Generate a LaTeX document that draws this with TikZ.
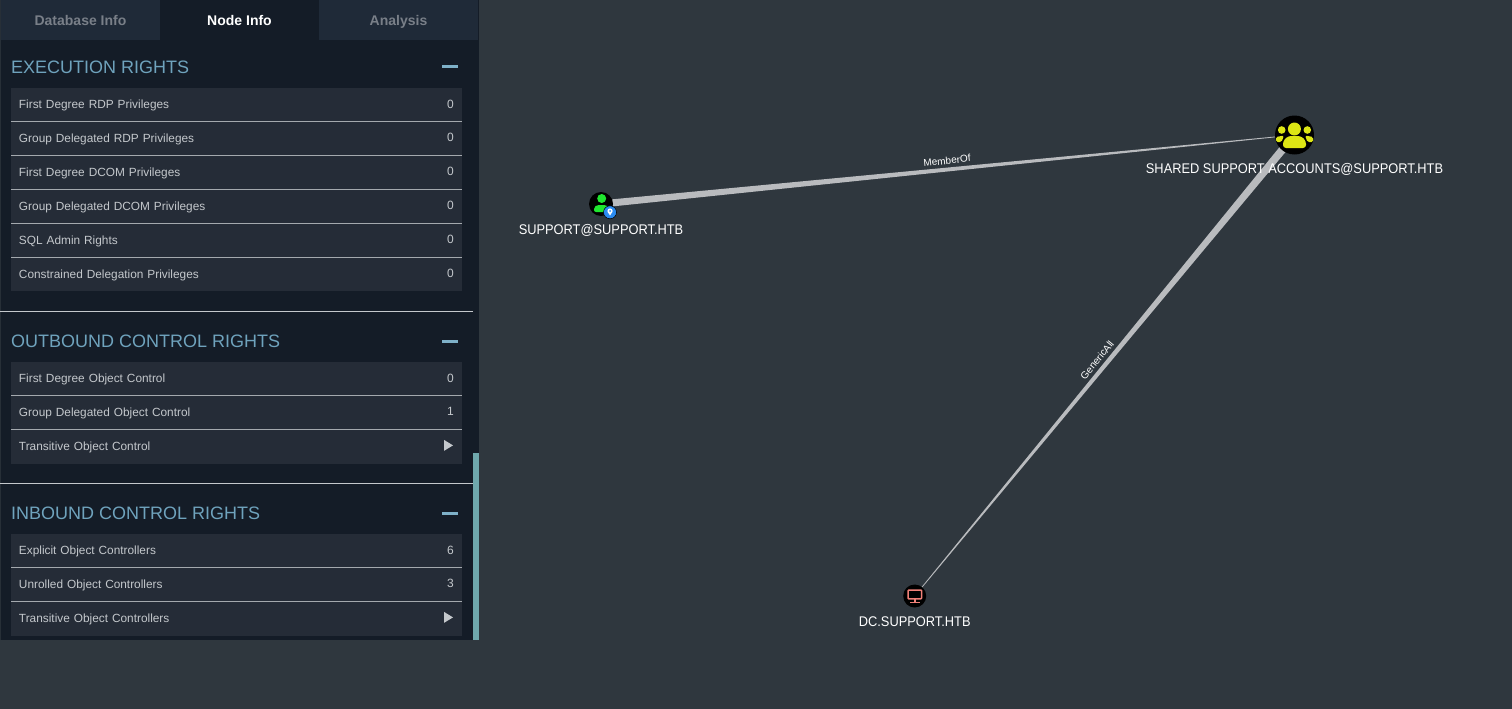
\documentclass[tikz,border=0pt]{standalone}
\usepackage{fontspec}
\setmainfont{Liberation Sans}
\usetikzlibrary{positioning,calc}
\definecolor{canvas}{HTML}{2F373E}
\definecolor{panel}{HTML}{141C27}
\definecolor{tabbar}{HTML}{1F2A38}
\definecolor{rowfill}{HTML}{252C37}
\definecolor{headblue}{HTML}{6FA3BD}
\definecolor{minusblue}{HTML}{7EB0C8}
\definecolor{scrollteal}{HTML}{6FA8AD}
\definecolor{rowtext}{HTML}{C4C8CC}
\definecolor{edgegrey}{HTML}{B9BBBE}
\definecolor{groupyellow}{HTML}{DDE614}
\definecolor{usergreen}{HTML}{1FE52F}
\definecolor{compred}{HTML}{F08078}
\definecolor{badgeblue}{HTML}{2B8BF0}
\colorlet{tabgrey}{white!40!tabbar}
\newcommand{\px}[1]{\fontsize{#1}{#1}\selectfont}
\newcommand{\taper}[3]{\fill[edgegrey] ($(#1)!#3!90:(#2)$) -- ($(#1)!#3!-90:(#2)$) -- ($(#2)!.3pt!90:(#1)$) -- ($(#2)!.3pt!-90:(#1)$) -- cycle;}
\tikzset{tabbox/.style={minimum width=159pt,minimum height=40pt,inner sep=0pt,outer sep=0pt,text height=14pt,text depth=2pt,font=\px{14}\bfseries,fill=tabbar},
rowbox/.style={fill=rowfill,minimum height=33.85pt,inner xsep=8pt,inner ysep=0pt,outer sep=0pt,text height=10pt,text depth=2pt,anchor=north west,font=\px{11.85},text=rowtext,align=left,text width=435pt},
rowval/.style={anchor=east,inner sep=0pt,xshift=-8pt,yshift=1pt,font=\px{12},text=rowtext},
heading/.style={anchor=west,inner sep=0pt,font=\px{18},text=headblue},
minus/.style={fill=minusblue,minimum width=16pt,minimum height=3pt,inner sep=0pt},
play/.style={fill=rowtext},
sep/.style={draw=rowtext!80!rowfill,line width=1pt},
divider/.style={draw=rowtext,line width=1pt},
graphlab/.style={font=\px{14},text=white,inner sep=0pt,xscale=.917},
edgelab/.style={font=\px{10},text=white,inner sep=1pt},
obj/.style={circle,fill=black,inner sep=0pt}}
\begin{document}
\begin{tikzpicture}[x=1pt,y=-1pt]
\useasboundingbox[fill=canvas] (0,0) rectangle (1512,709);
\fill[panel] (0,0) rectangle (479,640);
\draw[canvas!70!panel,line width=1pt] (.5,0) -- (.5,640);
\node[tabbox,anchor=north west,text=tabgrey] (dbtab) at (1,0) {Database Info};
\node[tabbox,right=0pt of dbtab,fill=panel,text=white] (nodetab) {Node Info};
\node[tabbox,right=0pt of nodetab,text=tabgrey] (antab) {Analysis};
\node[heading] (exec) at (11,67) {EXECUTION RIGHTS};
\node[minus] (execmin) at (450,67) {};
\node[rowbox] (rdpa) at (11,88) {First Degree RDP Privileges};
\node[rowval] (rdpav) at (rdpa.east) {0};
\node[rowbox,below=0pt of rdpa.south west,anchor=north west] (rdpb) {Group Delegated RDP Privileges};
\node[rowval] (rdpbv) at (rdpb.east) {0};
\node[rowbox,below=0pt of rdpb.south west,anchor=north west] (dcoma) {First Degree DCOM Privileges};
\node[rowval] (dcomav) at (dcoma.east) {0};
\node[rowbox,below=0pt of dcoma.south west,anchor=north west] (dcomb) {Group Delegated DCOM Privileges};
\node[rowval] (dcombv) at (dcomb.east) {0};
\node[rowbox,below=0pt of dcomb.south west,anchor=north west] (sql) {SQL Admin Rights};
\node[rowval] (sqlv) at (sql.east) {0};
\node[rowbox,below=0pt of sql.south west,anchor=north west] (deleg) {Constrained Delegation Privileges};
\node[rowval] (delegv) at (deleg.east) {0};
\draw[sep] (rdpa.south west) -- (rdpa.south east);
\draw[sep] (rdpb.south west) -- (rdpb.south east);
\draw[sep] (dcoma.south west) -- (dcoma.south east);
\draw[sep] (dcomb.south west) -- (dcomb.south east);
\draw[sep] (sql.south west) -- (sql.south east);
\draw[divider] (0,311.5) -- (473,311.5);
\node[heading] (outb) at (11,341) {OUTBOUND CONTROL RIGHTS};
\node[minus] (outmin) at (450,341) {};
\node[rowbox] (obja) at (11,362) {First Degree Object Control};
\node[rowval] (objav) at (obja.east) {0};
\node[rowbox,below=0pt of obja.south west,anchor=north west] (objb) {Group Delegated Object Control};
\node[rowval] (objbv) at (objb.east) {1};
\node[rowbox,below=0pt of objb.south west,anchor=north west] (objc) {Transitive Object Control};
\fill[play] ($(objc.east)+(-18,-6.75)$) -- ($(objc.east)+(-18,4.25)$) -- ($(objc.east)+(-9,-1.25)$) -- cycle;
\draw[sep] (obja.south west) -- (obja.south east);
\draw[sep] (objb.south west) -- (objb.south east);
\draw[divider] (0,483.5) -- (473,483.5);
\node[heading] (inb) at (11,513) {INBOUND CONTROL RIGHTS};
\node[minus] (inmin) at (450,513) {};
\node[rowbox] (cona) at (11,534) {Explicit Object Controllers};
\node[rowval] (conav) at (cona.east) {6};
\node[rowbox,below=0pt of cona.south west,anchor=north west] (conb) {Unrolled Object Controllers};
\node[rowval] (conbv) at (conb.east) {3};
\node[rowbox,below=0pt of conb.south west,anchor=north west] (conc) {Transitive Object Controllers};
\fill[play] ($(conc.east)+(-18,-6.75)$) -- ($(conc.east)+(-18,4.25)$) -- ($(conc.east)+(-9,-1.25)$) -- cycle;
\draw[sep] (cona.south west) -- (cona.south east);
\draw[sep] (conb.south west) -- (conb.south east);
\fill[scrollteal] (473,453) rectangle (479,640);
% graph
\coordinate (usr) at (601,204);
\coordinate (grp) at (1294.5,135);
\coordinate (dc) at (914.7,596);
\taper{usr}{grp}{3.6pt}
\taper{grp}{dc}{4pt}
\node[edgelab,rotate=5.7] (memberof) at (947,160.5) {MemberOf};
\node[edgelab,rotate=50.5] (genericall) at (1097,360) {GenericAll};
\node[obj,minimum size=24pt] (usernode) at (usr) {};
\node[obj,minimum size=39pt] (groupnode) at (grp) {};
\node[obj,minimum size=23pt] (dcnode) at (dc) {};
\node[graphlab,below=26pt of usernode.center,anchor=center] (userlab) {SUPPORT@SUPPORT.HTB};
\node[graphlab,below=34pt of groupnode.center,anchor=center] (grouplab) {SHARED SUPPORT ACCOUNTS@SUPPORT.HTB};
\node[graphlab,below=26pt of dcnode.center,anchor=center] (dclab) {DC.SUPPORT.HTB};
% group icon
\fill[groupyellow] (1294.4,129) circle (6.5);
\fill[groupyellow] (1281.7,130) circle (3.8);
\fill[groupyellow] (1307.3,130) circle (3.8);
\fill[groupyellow,rounded corners=3pt] (1283,148) -- (1283,141) -- (1288,136) -- (1301,136) -- (1306,141) -- (1306,148) -- cycle;
\fill[groupyellow,rounded corners=1.5pt] (1276,142) -- (1276,137) -- (1284,135.5) -- (1281.5,142) -- cycle;
\fill[groupyellow,rounded corners=1.5pt] (1313,142) -- (1313,137) -- (1305,135.5) -- (1307.5,142) -- cycle;
% user icon
\fill[usergreen] (601.7,198.5) circle (4.5);
\fill[usergreen,rounded corners=2pt] (594,212) -- (594,207) -- (597,205) -- (606,205) -- (609,207) -- (609,212) -- cycle;
\node[circle,fill=badgeblue,draw=black,line width=.5pt,minimum size=13pt,inner sep=0pt] (badge) at (610,212.3) {};
\fill[white] (610,211) circle (2.6);
\fill[white] (607.7,212) -- (612.3,212) -- (610,215.5) -- cycle;
\fill[badgeblue] (610,211) circle (1);
% computer icon
\draw[compred,line width=1.5pt,rounded corners=.8pt] (908,590) rectangle (921.6,598.8);
\draw[compred,line width=1.5pt] (914.8,599) -- (914.8,602);
\draw[compred,line width=1.2pt] (910,602.2) -- (919.6,602.2);
\end{tikzpicture}
\end{document}
